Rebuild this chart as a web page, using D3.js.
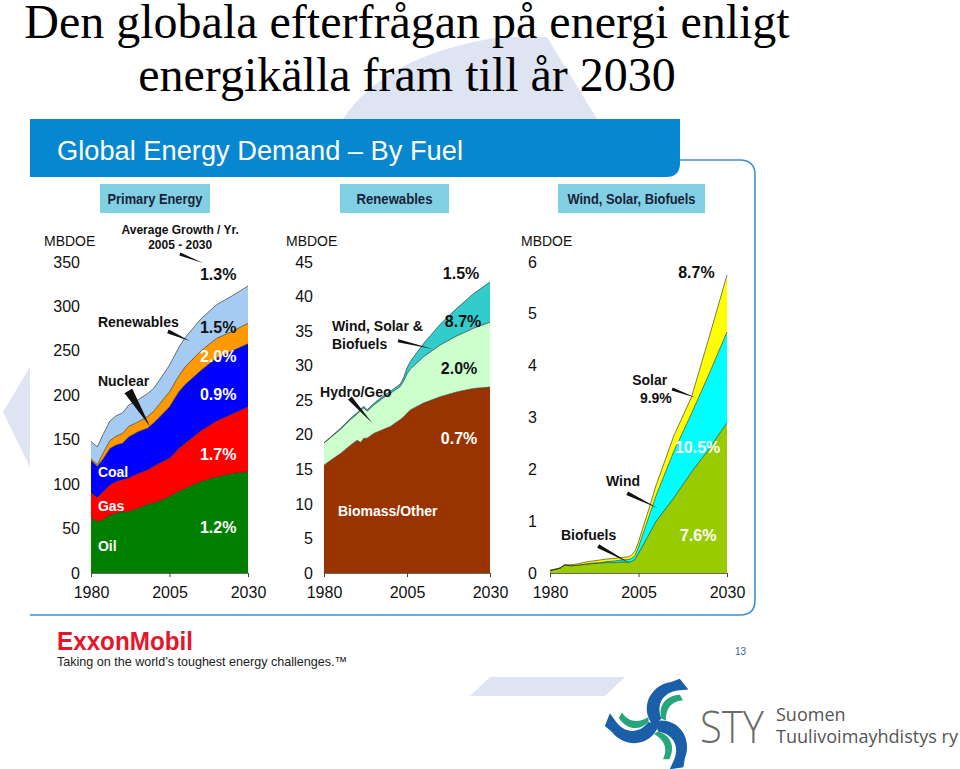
<!DOCTYPE html>
<html><head><meta charset="utf-8">
<script src="https://cdn.jsdelivr.net/npm/d3@7"></script>
<style>body{margin:0;background:#fff}</style>
</head><body>
<svg id="c" width="960" height="769"></svg>
<script>
// ---------------- DATA ----------------
const titleLines = ["Den globala efterfrågan på energi enligt", "energikälla fram till år 2030"];
const yearTicks = [1980, 2005, 2030];

// Primary energy (MBDOE)
const years1 = [1980,1982,1984,1986,1988,1990,1992,1995,1998,2000,2002,2005,2008,2010,2015,2020,2025,2030];
const oil     = [62,58,60,65,67,69,69,73,77,79,81,86,92,95,103,108,112,114];
const gas     = [28,27,32,34,36,36,38,39,39,41,43,43,48,51,57,63,67,73];
const coal    = [37,35,37,41,41,41,46,47,47,49,52,58,64,66,68,71,71,71];
const nuclear = [2,2,7,9,10,11,12,11,13,13,15,17,18,20,22,22,22,23];
const renewables = [19,20,21,22,23,23,24,25,26,26,27,30,32,33,36,38,40,42];
const primaryTicks = [0,50,100,150,200,250,300,350];

// Renewables (MBDOE)
const years2  = [1980,1982,1985,1988,1990,1991,1992,1993,1995,1998,2000,2003,2004,2005,2006,2010,2015,2020,2025,2030];
const biomass = [15.6,16.3,17.3,18.5,19.2,18.9,19.5,19.5,20.2,20.8,21.2,22.2,22.6,23.1,23.6,24.6,25.5,26.2,26.7,26.9];
const hydro   = [3.2,3.3,3.5,3.7,3.8,4.6,4.4,3.9,4.1,4.6,4.8,4.8,5.2,5.7,5.9,6.7,7.5,8.1,8.7,9.4];
const wsb     = [0.05,0.08,0.15,0.18,0.2,0.2,0.22,0.22,0.24,0.27,0.3,0.35,0.5,0.9,1.1,1.9,3.0,4.0,5.0,5.8];
const renewTicks = [0,5,10,15,20,25,30,35,40,45];

// Wind, Solar, Biofuels (MBDOE)
const years3   = [1980,1982,1983,1984,1986,1988,1990,1992,1994,1996,1998,2000,2002,2003,2004,2005,2006,2008,2010,2015,2020,2025,2030];
const biofuels = [0.05,0.08,0.1,0.15,0.14,0.15,0.17,0.18,0.19,0.2,0.2,0.21,0.21,0.22,0.26,0.38,0.5,0.75,1.0,1.45,1.95,2.4,2.9];
const wind     = [0,0,0,0,0,0,0,0.01,0.01,0.02,0.03,0.04,0.05,0.06,0.07,0.12,0.2,0.35,0.5,0.9,1.13,1.45,1.75];
const solar    = [0,0,0,0.01,0.02,0.03,0.04,0.04,0.05,0.05,0.05,0.05,0.05,0.06,0.09,0.1,0.12,0.15,0.2,0.3,0.32,0.71,1.1];
const wsbTicks = [0,1,2,3,4,5,6];

// ---------------- DRAW ----------------
const svg = d3.select("#c");
const SANS = "'Liberation Sans', Arial, sans-serif";
const lav = "#dfe4f3";

// background decorations
svg.append("path").attr("d","M343,119 Q385,55 500,37 L547,37 L597,119 Z").attr("fill",lav);
svg.append("path").attr("d","M30,367 L3,412 L30,467 Z").attr("fill",lav);
svg.append("path").attr("d","M490,677 L625,677 L605,696 L470,696 Z").attr("fill",lav);

// Title
titleLines.forEach((t,i)=>{
  svg.append("text").attr("x", 407).attr("y", i===0?38:91)
    .attr("text-anchor","middle").attr("font-family","'Liberation Serif','Times New Roman',serif")
    .attr("font-size",48).attr("fill","#000").text(t);
});

// Header bar
svg.append("path").attr("d","M30,119 H680 V163 Q680,177 666,177 H30 Z").attr("fill","#0787cf");
svg.append("text").attr("x",57).attr("y",160).attr("font-family",SANS).attr("font-size",27)
  .attr("fill","#fff").attr("textLength",406).attr("lengthAdjust","spacingAndGlyphs")
  .text("Global Energy Demand – By Fuel");
// frame line
svg.append("path").attr("d","M680,160 H740 Q755,160 755,175 V600 Q755,615 740,615 H30")
  .attr("fill","none").attr("stroke","#3f8fcc").attr("stroke-width",1.6);

// subtitle boxes
const boxes = [
  {t:"Primary Energy", x:100, w:110, tl:95},
  {t:"Renewables", x:340, w:109, tl:76},
  {t:"Wind, Solar, Biofuels", x:558, w:147, tl:128}
];
boxes.forEach(b=>{
  svg.append("rect").attr("x",b.x).attr("y",184).attr("width",b.w).attr("height",29).attr("fill","#80cfe2");
  svg.append("text").attr("x",b.x+b.w/2).attr("y",204).attr("text-anchor","middle")
    .attr("font-family",SANS).attr("font-size",14).attr("font-weight","bold").attr("fill","#1b1f3a")
    .attr("textLength",b.tl).attr("lengthAdjust","spacingAndGlyphs").text(b.t);
});

// panels
function toRows(years, keys, arrays){
  return years.map((y,i)=>{ const r={year:y}; keys.forEach((k,j)=>r[k]=arrays[j][i]); return r; });
}
const panels = [
  {keys:["Oil","Gas","Coal","Nuclear","Renewables"], arrays:[oil,gas,coal,nuclear,renewables], years:years1,
   colors:["#008000","#ff0000","#0000ff","#ff9900","#a6cbf2"], xr:[91,248], ymax:350, ticks:primaryTicks, mx:44, pad:11},
  {keys:["Biomass","Hydro","WSB"], arrays:[biomass,hydro,wsb], years:years2,
   colors:["#993300","#ccffcc","#33cccc"], xr:[324,490], ymax:45, ticks:renewTicks, mx:286, pad:11},
  {keys:["Biofuels","Wind","Solar"], arrays:[biofuels,wind,solar], years:years3,
   colors:["#99cc00","#00ffff","#ffff00"], xr:[550,727], ymax:6, ticks:wsbTicks, mx:521, pad:13}
];
const Y0 = 573, Y1 = 262;

panels.forEach(p=>{
  p.x = d3.scaleLinear().domain([1980,2030]).range(p.xr);
  p.y = d3.scaleLinear().domain([0,p.ymax]).range([Y0,Y1]);
  const rows = toRows(p.years, p.keys, p.arrays);
  const stack = d3.stack().keys(p.keys)(rows);
  const area = d3.area().x(d=>p.x(d.data.year)).y0(d=>p.y(d[0])).y1(d=>p.y(d[1]));
  const line = d3.line().x(d=>p.x(d.data.year)).y(d=>p.y(d[1]));
  const g = svg.append("g");
  g.selectAll("path.a").data(stack).join("path").attr("class","a")
    .attr("d",area).attr("fill",(d,i)=>p.colors[i]);
  g.selectAll("path.l").data(stack).join("path").attr("class","l")
    .attr("d",line).attr("fill","none").attr("stroke","#222").attr("stroke-width",0.8).attr("stroke-opacity",0.75);

  // axes
  const ya = svg.append("g").attr("transform",`translate(${p.xr[0]},0)`)
    .call(d3.axisLeft(p.y).tickValues(p.ticks).tickSize(0).tickPadding(p.pad).tickFormat(d3.format("d")));
  ya.select(".domain").remove();
  ya.selectAll("text").attr("font-family",SANS).attr("font-size",16).attr("fill","#111");
  const xa = svg.append("g").attr("transform",`translate(0,${Y0})`)
    .call(d3.axisBottom(p.x).tickValues(yearTicks).tickSizeInner(4).tickSizeOuter(0).tickPadding(10).tickFormat(d3.format("d")));
  xa.select(".domain").attr("stroke","#444").attr("stroke-width",0.8);
  xa.selectAll(".tick line").attr("stroke","#444");
  xa.selectAll("text").attr("font-family",SANS).attr("font-size",16).attr("fill","#111");

  svg.append("text").attr("x",p.mx).attr("y",246).attr("font-family",SANS).attr("font-size",14)
    .attr("fill","#111").text("MBDOE");
});

// annotations (data coordinates)
const labels = [
  [0,"Average  Growth / Yr.",2008.4,381,12,"#111","middle"],
  [0,"2005 - 2030",2008.4,365,12,"#111","middle"],
  [0,"1.3%",2014.7,330,16,"#111"],
  [0,"Renewables",1982.2,277,14,"#111"],
  [0,"1.5%",2014.7,270,16,"#111"],
  [0,"2.0%",2014.7,237,16,"#fff"],
  [0,"Nuclear",1982.2,211,14,"#111"],
  [0,"0.9%",2014.7,195,16,"#fff"],
  [0,"1.7%",2014.7,127,16,"#fff"],
  [0,"Coal",1982.2,108,14,"#fff"],
  [0,"Gas",1982.2,70,14,"#fff"],
  [0,"1.2%",2014.7,45,16,"#fff"],
  [0,"Oil",1982.2,25,14,"#fff"],
  [1,"1.5%",2015.8,42.5,16,"#111"],
  [1,"8.7%",2016.4,35.6,16,"#111"],
  [1,"2.0%",2015.2,28.8,16,"#111"],
  [1,"0.7%",2015.2,18.7,16,"#fff"],
  [1,"Wind, Solar &",1982.4,35.0,14,"#111"],
  [1,"Biofuels",1982.4,32.4,14,"#111"],
  [1,"Hydro/Geo",1978.8,25.5,14,"#111"],
  [1,"Biomass/Other",1984.2,8.2,14,"#fff"],
  [2,"8.7%",2016.2,5.69,16,"#111"],
  [2,"Solar",2003.2,3.63,14,"#111"],
  [2,"9.9%",2005.4,3.28,14,"#111"],
  [2,"10.5%",2015.3,2.32,16,"#fff"],
  [2,"Wind",1995.8,1.68,14,"#111"],
  [2,"Biofuels",1983.1,0.64,14,"#111"],
  [2,"7.6%",2016.7,0.62,16,"#fff"]
];
labels.forEach(([pi,t,yr,v,fs,col,anc])=>{
  const p = panels[pi];
  svg.append("text").attr("x",p.x(yr)).attr("y",p.y(v)).attr("text-anchor",anc||"start")
    .attr("font-family",SANS).attr("font-size",fs).attr("font-weight","bold").attr("fill",col).text(t);
});
const wedges = [
  [0,2008.3,359,2015.7,349,3],
  [0,2004.5,272,2011.5,261,4],
  [0,1991.9,205,1998.8,165,9],
  [1,2002.3,33.6,2012.8,32.4,3],
  [1,1987.8,25.3,1994.5,21.7,5],
  [2,2014.5,3.55,2021.2,3.38,3],
  [2,2001.8,1.54,2010.5,1.25,4],
  [2,1993.6,0.52,2002.6,0.19,4]
];
wedges.forEach(([pi,a,b,c,d,w])=>{
  const p = panels[pi];
  const x1=p.x(a), y1=p.y(b), x2=p.x(c), y2=p.y(d);
  const L=Math.hypot(x2-x1,y2-y1), nx=-(y2-y1)/L*w/2, ny=(x2-x1)/L*w/2;
  svg.append("path").attr("d",`M${x1+nx},${y1+ny} L${x2},${y2} L${x1-nx},${y1-ny} Z`).attr("fill","#111");
});

// ExxonMobil footer
svg.append("text").attr("x",57).attr("y",650).attr("font-family",SANS).attr("font-size",26)
  .attr("font-weight","bold").attr("fill","#e2172c").attr("textLength",136).attr("lengthAdjust","spacingAndGlyphs").text("ExxonMobil");
svg.append("text").attr("x",57).attr("y",666).attr("font-family",SANS).attr("font-size",13)
  .attr("fill","#222").attr("textLength",290).attr("lengthAdjust","spacingAndGlyphs")
  .text("Taking on the world’s toughest energy challenges.™");
svg.append("text").attr("x",735).attr("y",655).attr("font-family",SANS).attr("font-size",10)
  .attr("fill","#3f5f88").text("13");

// STY logo
const logo = svg.append("g").attr("transform","translate(656,724) scale(1.08)");
[0,120,240].forEach(r=>{
  const b = logo.append("g").attr("transform",`rotate(${r})`);
  b.append("path").attr("d","M-2,2 C-16,-14 -6,-36 14,-39 L22,-42 L30,-32 L20,-31 C6,-29 0,-18 5,-5 Z").attr("fill","#1c5fa9");
  b.append("path").attr("d","M5,-5 C2,-16 8,-26 22,-27 L25,-22 C13,-21 9,-13 9,-3 Z").attr("fill","#27a57c");
});
svg.append("text").attr("x",700).attr("y",743).attr("font-family","'Open Sans', sans-serif").attr("font-size",44)
  .attr("font-weight",300).attr("fill","#6b6b6b").attr("textLength",64).attr("lengthAdjust","spacingAndGlyphs").text("STY");
svg.append("text").attr("x",776).attr("y",721).attr("font-family","'Open Sans', sans-serif").attr("font-size",18)
  .attr("fill","#555").text("Suomen");
svg.append("text").attr("x",776).attr("y",743).attr("font-family","'Open Sans', sans-serif").attr("font-size",18)
  .attr("fill","#555").attr("textLength",182).attr("lengthAdjust","spacingAndGlyphs").text("Tuulivoimayhdistys ry");
</script>
</body></html>
